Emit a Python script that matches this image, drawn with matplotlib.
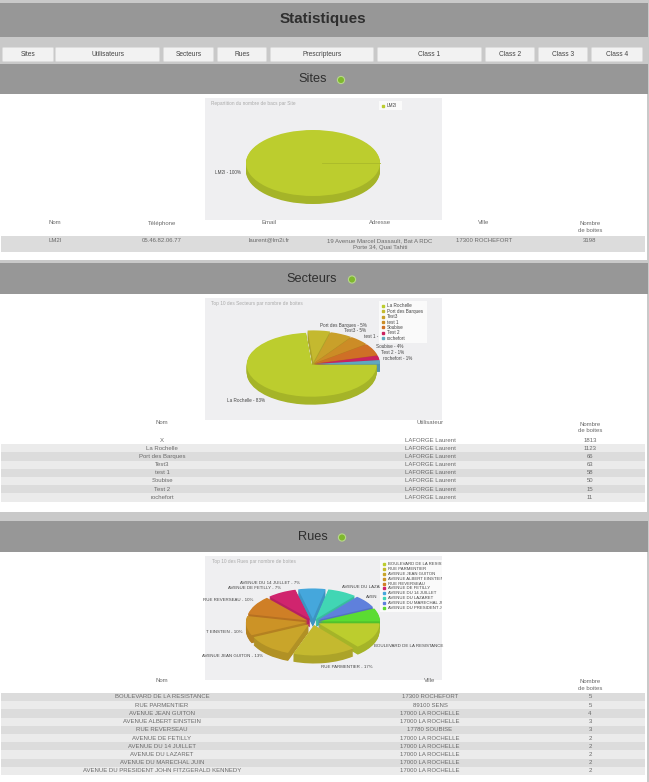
import matplotlib
matplotlib.use('Agg')
import matplotlib.pyplot as plt
from matplotlib.patches import Rectangle, FancyBboxPatch, Circle
from matplotlib.colors import to_rgb

plt.rcParams['font.family'] = ['Liberation Sans', 'DejaVu Sans']

W, H = 649, 782

# Donnees
menu = ['Sites', 'Utilisateurs', 'Secteurs', 'Rues', 'Prescripteurs', 'Class 1', 'Class 2', 'Class 3', 'Class 4']
menu_x = [(2, 54), (55, 160), (163, 214), (217, 267), (270, 374), (377, 482), (485, 535), (538, 588), (591, 643)]

sites_labels = ['LM2I - 100%']
sites_values = [3198]
sites_row = ['LM2I', '05.46.82.06.77', 'laurent@lm2i.fr', '19 Avenue Marcel Dassault, Bat A RDC\nPorte 34, Quai Tahiti', '17300 ROCHEFORT', '3198']

secteurs_noms = ['X', 'La Rochelle', 'Port des Barques', 'Test3', 'test 1', 'Soubise', 'Test 2', 'rochefort']
secteurs_valeurs = [1813, 1123, 66, 63, 58, 50, 15, 11]
secteurs_parts = [265, 20, 20, 18, 22, 8, 7]

rues_noms = ['BOULEVARD DE LA RESISTANCE', 'RUE PARMENTIER', 'AVENUE JEAN GUITON', 'AVENUE ALBERT EINSTEIN',
             'RUE REVERSEAU', 'AVENUE DE FETILLY', 'AVENUE DU 14 JUILLET', 'AVENUE DU LAZARET',
             'AVENUE DU MARECHAL JUIN', 'AVENUE DU PRESIDENT JOHN FITZGERALD KENNEDY']
rues_villes = ['17300 ROCHEFORT', '89100 SENS', '17000 LA ROCHELLE', '17000 LA ROCHELLE', '17780 SOUBISE',
               '17000 LA ROCHELLE', '17000 LA ROCHELLE', '17000 LA ROCHELLE', '17000 LA ROCHELLE', '17000 LA ROCHELLE']
rues_valeurs = [5, 5, 4, 3, 3, 2, 2, 2, 2, 2]
rues_parts = [50, 60, 45, 37, 36, 28, 26, 28, 25, 25]

couleurs_sect = ['#bccd2e', '#c4b92f', '#c9a02a', '#cc8c26', '#cf6f26', '#c9225f', '#5fa8c0']
couleurs_rues = ['#bccd2e', '#c4b92f', '#c9a52a', '#cc9326', '#cf7f26', '#d0246e', '#45a7dc', '#41d6b4', '#5f80dc', '#5bdc32']

fig = plt.figure(figsize=(W / 100, H / 100), dpi=100, facecolor='#c9c9c9')
ax = fig.add_axes([0, 0, 1, 1])
top = fig.add_axes([0, 0, 1, 1], facecolor='none')
top.set_zorder(5)
for a in (ax, top):
    a.set_xlim(0, W)
    a.set_ylim(H, 0)
    a.axis('off')


def rect(x0, y0, x1, y1, color, z=1):
    ax.add_patch(Rectangle((x0, y0), x1 - x0, y1 - y0, fc=color, ec='none', zorder=z))


def txt(x, y, s, size=4.3, color='#6a6a6a', **kw):
    kw.setdefault('ha', 'center')
    top.text(x, y, s, fontsize=size, color=color, va='center', zorder=5, **kw)


def header(y0, y1, titre, xt, xi, size=9.2):
    rect(0, y0, 648, y1, '#979797', 2)
    txt(xt, (y0 + y1) / 2, titre, size=size, color='#2e2e2e')
    ax.add_patch(Circle((xi, (y0 + y1) / 2 + 1), 3.6, fc='#7fb82e', ec='#b8d88a', lw=0.8, zorder=5))


def pie3d(centre, rx, ry, depth, values, colors, explode=None):
    # camembert aplati, empile pour faire l'epaisseur
    cx, cy = centre
    a = fig.add_axes([(cx - rx * 1.3) / W, 1 - (cy + ry * 1.3) / H, rx * 2.6 / W, ry * 2.6 / H], facecolor='none')
    a.set_zorder(3)
    dark = [tuple(c * 0.88 for c in to_rgb(k)) for k in colors]
    n = 10
    for k in range(n, 0, -1):
        a.pie(values, colors=dark, explode=explode, startangle=0, counterclock=False,
              center=(0, -depth / ry * k / n), wedgeprops={'lw': 0})
    a.pie(values, colors=colors, explode=explode, startangle=0, counterclock=False,
          wedgeprops={'lw': 0})
    a.set_aspect('auto')
    a.set_xlim(-1.3, 1.3)
    a.set_ylim(-1.3, 1.3)


def legend(x0, y0, x1, y1, noms, colors, size=3.3, clip=None):
    top.add_patch(Rectangle((x0, y0), x1 - x0, y1 - y0, fc='#fafafa', ec='none', zorder=6))
    step = (y1 - y0 - 4) / len(noms)
    for i, (nom, c) in enumerate(zip(noms, colors)):
        y = y0 + 2 + step * (i + 0.5)
        top.plot([x0 + 4], [y], 's', ms=1.6, color=c, zorder=7)
        t = top.text(x0 + 8, y, nom, fontsize=size, color='#444444', va='center', ha='left', zorder=7)
        if clip:
            t.set_clip_path(Rectangle((0, 0), clip, H, transform=top.transData))
            t.set_clip_on(True)


# Fond
rect(0, 3, 648, 37, '#979797', 2)
rect(0, 94, 647, 260, '#ffffff')
rect(0, 294, 647, 512, '#ffffff')
rect(0, 552, 647, 782, '#ffffff')
txt(323, 19, 'Statistiques', size=11, color='#2e2e2e', fontweight='bold')

# Menu
for nom, (x0, x1) in zip(menu, menu_x):
    ax.add_patch(FancyBboxPatch((x0 + 1, 48), x1 - x0 - 2, 13, boxstyle='round,pad=0.5,rounding_size=1',
                                fc='#f2f2f2', ec='#dddddd', lw=0.5, zorder=3))
    txt((x0 + x1) / 2, 54, nom, size=4.8, color='#444444')

# Sites
header(64, 94, 'Sites', 313, 341)
rect(205, 98, 442, 220, '#efeff1', 2)
txt(211, 103, 'Repartition du nombre de bacs par Site', size=3.4, color='#aaaaaa', ha='left')
pie3d((313, 163), 67, 33, 8, sites_values, ['#bccd2e'])
top.plot([322, 380], [163, 163], color='#a9b92a', lw=0.6, zorder=5)
legend(379, 101, 402, 110, ['LM2I'], ['#bccd2e'])
txt(228, 173, sites_labels[0], size=3.3, color='#444444')

sites_cols = ['Nom', 'Téléphone', 'Email', 'Adresse', 'Ville', 'Nombre\nde boites']
sites_x = [55, 162, 269, 380, 484, 590]
rect(1, 236, 645, 252, '#dcdcdc', 2)
for x, c, v in zip(sites_x, sites_cols, sites_row):
    txt(x, 227 if '\n' in c else 223, c, linespacing=1.4)
    txt(x, 244 if '\n' in v else 240, v, linespacing=1.4)

# Secteurs
header(263, 294, 'Secteurs', 312, 352)
rect(205, 298, 442, 420, '#efeff1', 2)
txt(211, 303, 'Top 10 des Secteurs par nombre de boites', size=3.4, color='#aaaaaa', ha='left')
pie3d((313, 364), 65, 32, 8, secteurs_parts, couleurs_sect, explode=[0.03, 0.05, 0.03, 0.03, 0.03, 0.03, 0.03])
legend(379, 301, 427, 343, secteurs_noms[1:], couleurs_sect)
for (x, y, s) in [(343, 325, 'Port des Barques - 5%'), (355, 330, 'Test3 - 5%'), (371, 336, 'test 1 -'),
                  (390, 346, 'Soubise - 4%'), (393, 353, 'Test 2 - 1%'), (398, 358, 'rochefort - 1%'),
                  (246, 400, 'La Rochelle - 83%')]:
    txt(x, y, s, size=3.3, color='#444444')

txt(162, 423, 'Nom')
txt(430, 423, 'Utilisateur')
txt(590, 427.5, 'Nombre\nde boites', linespacing=1.4)
for i, (n, v) in enumerate(zip(secteurs_noms, secteurs_valeurs)):
    y = 440 + i * 8.2
    if i:
        rect(1, y - 4.1, 645, y + 4.1, '#ebebeb' if i % 2 else '#dcdcdc', 2)
    txt(162, y, n)
    txt(430, y, 'LAFORGE Laurent')
    txt(590, y, str(v))

# Rues
rect(0, 512, 647, 520, '#c9c9c9', 1)
header(521, 552, 'Rues', 313, 342)
rect(205, 556, 442, 680, '#efeff1', 2)
txt(212, 561, 'Top 10 des Rues par nombre de boites', size=3.4, color='#aaaaaa', ha='left')
pie3d((313, 622), 61, 30.5, 8, rues_parts, couleurs_rues, explode=[0.1] * 10)
legend(380, 560, 442, 612, rues_noms, couleurs_rues, size=3.1, clip=442)
for (x, y, s) in [(270, 583, 'AVENUE DU 14 JUILLET - 7%'), (255, 588, 'AVENUE DE FETILLY - 7%'),
                  (228, 600, 'RUE REVERSEAU - 10%'), (224, 632, 'T EINSTEIN - 10%'),
                  (233, 656, 'AVENUE JEAN GUITON - 13%'), (347, 667, 'RUE PARMENTIER - 17%'),
                  (409, 646, 'BOULEVARD DE LA RESISTANCE'), (362, 587, 'AVENUE DU LAZAR'), (372, 597, 'AVEN')]:
    txt(x, y, s, size=3.2, color='#444444')

txt(162, 681, 'Nom')
txt(430, 681, 'Ville')
txt(590, 685, 'Nombre\nde boites', linespacing=1.4)
for i, (n, v, q) in enumerate(zip(rues_noms, rues_villes, rues_valeurs)):
    y = 697 + i * 8.2
    rect(1, y - 4.1, 645, y + 4.1, '#dcdcdc' if i % 2 == 0 else '#ebebeb', 2)
    txt(162, y, n)
    txt(430, y, v)
    txt(590, y, str(q))

fig.savefig('out.png', dpi=100, facecolor=fig.get_facecolor())
